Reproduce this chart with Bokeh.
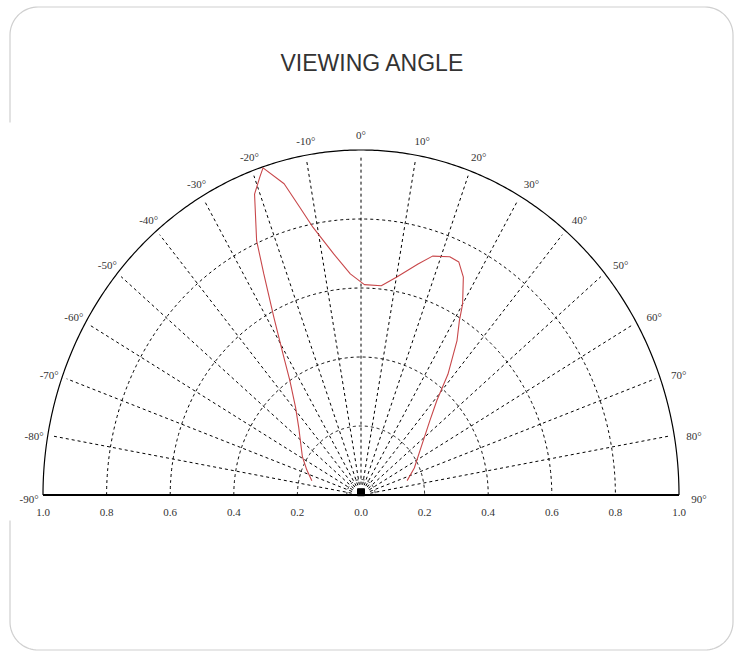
import numpy as np
from bokeh.plotting import figure
from bokeh.models import Range1d, ColumnDataSource
from bokeh.core.properties import value
from bokeh.embed import file_html
from bokeh.resources import INLINE

# ---------------- data ----------------
title_text = "VIEWING ANGLE"
# measured relative intensity vs. angle (degrees)
curve_angle = [-75, -67, -59, -45, -39, -34, -31, -28, -25.5, -24, -21, -19, -18,
               -15, -13, -11, -7, -3, 1, 6, 10, 15, 18, 22, 24.5, 27, 30, 31.5,
               34, 38, 41, 45, 55, 65, 74]
curve_value = [0.16, 0.185, 0.215, 0.277, 0.327, 0.40, 0.476, 0.584, 0.71, 0.807,
               0.934, 0.976, 0.997, 0.934, 0.856, 0.79, 0.704, 0.642, 0.61, 0.61,
               0.641, 0.693, 0.728, 0.745, 0.742, 0.709, 0.639, 0.592, 0.54, 0.444,
               0.364, 0.307, 0.227, 0.185, 0.151]
angle_ticks = [-90, -80, -70, -60, -50, -40, -30, -20, -10, 0, 10, 20, 30, 40, 50, 60, 70, 80, 90]
radial_angles = [-80, -70, -60, -50, -40, -30, -20, -10, 0, 10, 20, 30, 40, 50, 60, 70, 80]
ring_radii = [0.2, 0.4, 0.6, 0.8]
r_ticks = [-1.0, -0.8, -0.6, -0.4, -0.2, 0.0, 0.2, 0.4, 0.6, 0.8, 1.0]
r_tick_labels = ["1.0", "0.8", "0.6", "0.4", "0.2", "0.0", "0.2", "0.4", "0.6", "0.8", "1.0"]

# ---------------- layout (pixels on page) ----------------
W, H = 738, 651
FIG_L, FIG_T = 0, 0
CX, CY = 360.5, 494.5      # pole on the page
RX, RY = 318.0, 345.0      # pixels per unit radius (image is slightly stretched)

def xd(px):
    return (px - CX) / RX

def yd(py):
    return (CY - py) / RY

p = figure(width=W, height=H, output_backend="svg", toolbar_location=None,
           x_range=Range1d(xd(FIG_L), xd(FIG_L + W)),
           y_range=Range1d(yd(FIG_T + H), yd(FIG_T)),
           min_border=0, outline_line_color=None,
           background_fill_color="white", border_fill_color="white")
p.axis.visible = False
p.grid.visible = False

# ---------------- card outline (rounded rectangle, left side hidden by chart image) ----------------
cl, cr, ct, cb, rad = 9.5, 732.5, 6.5, 649.5, 28.0
def arc_px(cx, cy, a0, a1, n=20):
    t = np.radians(np.linspace(a0, a1, n))
    return cx + rad * np.cos(t), cy - rad * np.sin(t)
px_list, py_list = [cl], [520.0]
for seg in [arc_px(cl + rad, cb - rad, 180, 270),
            arc_px(cr - rad, cb - rad, 270, 360),
            arc_px(cr - rad, ct + rad, 0, 90),
            arc_px(cl + rad, ct + rad, 90, 180)]:
    px_list += list(seg[0]); py_list += list(seg[1])
px_list.append(cl); py_list.append(122.0)
p.line([xd(v) for v in px_list], [yd(v) for v in py_list], line_color="#cfcfcf", line_width=1.2)

# ---------------- title ----------------
p.text(x=[xd(372)], y=[yd(62)], text=[title_text], text_font=value("Liberation Sans"),
       text_font_size="23px", text_color="#333333", text_align="center", text_baseline="middle")

# ---------------- polar grid ----------------
th = np.radians(np.linspace(-90, 90, 361))
ring_xs = [list(r * np.sin(th)) for r in ring_radii + [0.045]]
ring_ys = [list(r * np.cos(th)) for r in ring_radii + [0.045]]
p.multi_line(ring_xs, ring_ys, line_color="black", line_width=1, line_dash="3 3")

r0, r1 = 0.03, 0.985
rad_xs = [[r0 * np.sin(np.radians(a)), r1 * np.sin(np.radians(a))] for a in radial_angles]
rad_ys = [[r0 * np.cos(np.radians(a)), r1 * np.cos(np.radians(a))] for a in radial_angles]
p.multi_line(rad_xs, rad_ys, line_color="black", line_width=1, line_dash="3 3")

# outer semicircle and baseline
p.line(list(np.sin(th)), list(np.cos(th)), line_color="black", line_width=1.2)
p.line([-1, 1], [0, 0], line_color="black", line_width=2)

# small source marker at the pole
p.scatter([0], [0.008], marker="square", size=7, color="black")

# ---------------- data curve ----------------
ca = np.radians(np.array(curve_angle))
cv = np.array(curve_value)
p.line(list(cv * np.sin(ca)), list(cv * np.cos(ca)), line_color="#c8474a", line_width=1.1)

# ---------------- angle labels ----------------
ta = np.radians(np.array(angle_ticks, dtype=float))
lab = ColumnDataSource(dict(
    x=list(np.sin(ta)), y=list(np.cos(ta)),
    t=[f"{a}\u00b0" for a in angle_ticks],
    xo=[17 * np.sin(t) + (3 if a != 0 else 0) for t, a in zip(ta, angle_ticks)],
    yo=[-19 * np.cos(t) + 4 for t in ta],
))
p.text(x="x", y="y", text="t", x_offset="xo", y_offset="yo", source=lab,
       text_font=value("Liberation Serif"), text_font_size="11px", text_color="#333333",
       text_align="center", text_baseline="middle")

# ---------------- radius labels along baseline ----------------
p.text(x=r_ticks, y=[0] * len(r_ticks), text=r_tick_labels, y_offset=17,
       text_font=value("Liberation Serif"), text_font_size="11px", text_color="#333333",
       text_align="center", text_baseline="middle")

open("out.html", "w").write(file_html(p, INLINE))
